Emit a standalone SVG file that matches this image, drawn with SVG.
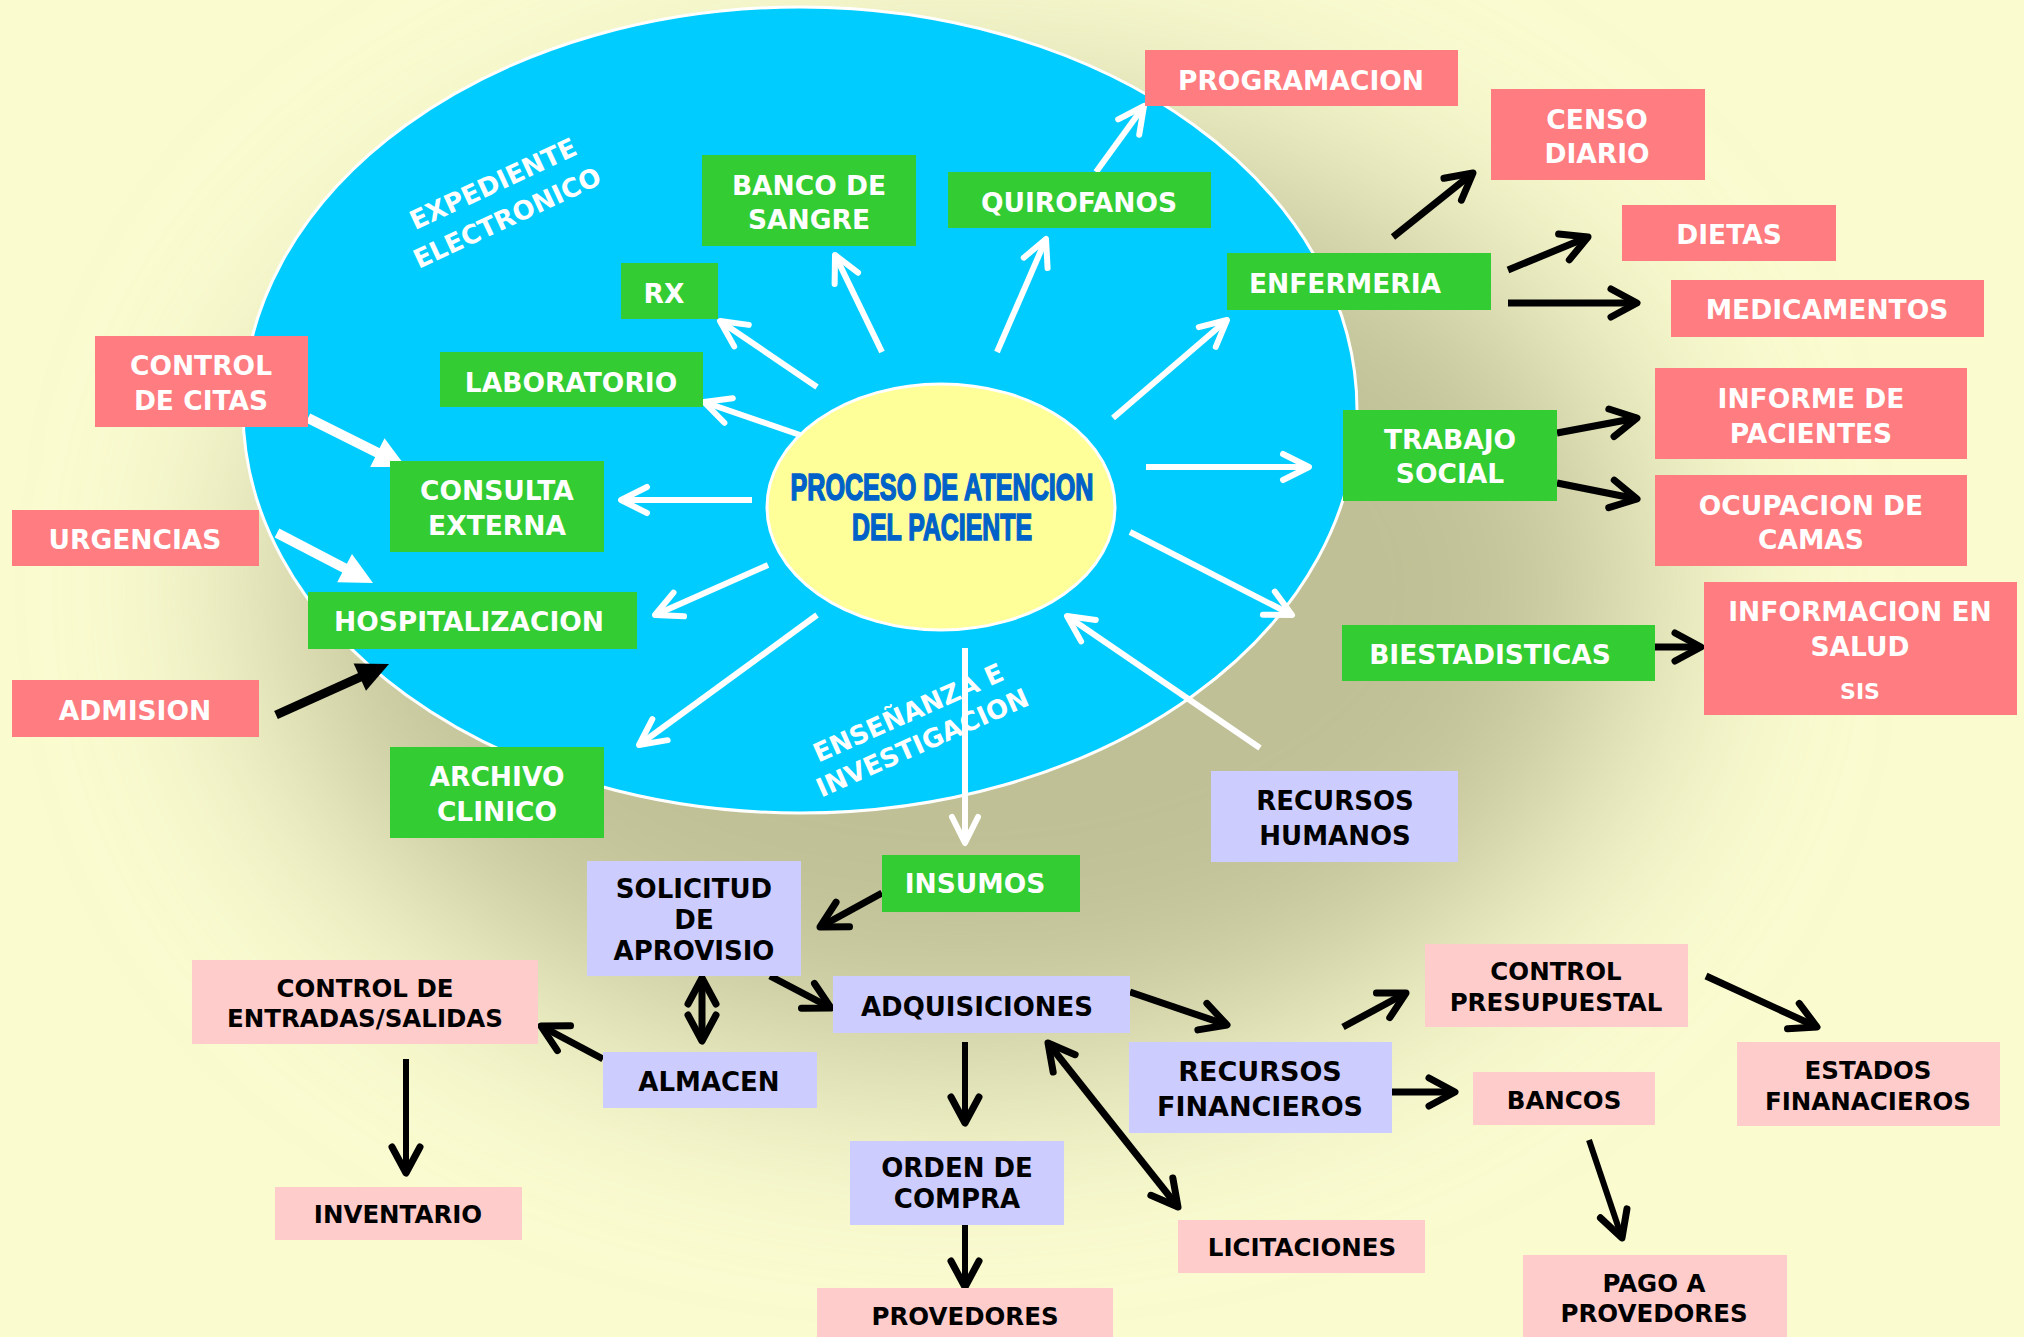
<svg xmlns="http://www.w3.org/2000/svg" width="2024" height="1337" viewBox="0 0 2024 1337">
<style>
.g{fill:#33CC33}
.s{fill:#FF7C80}
.l{fill:#CCCCFF}
.p{fill:#FFCCCC}
text{font-family:"DejaVu Sans",Verdana,sans-serif;font-weight:bold;text-anchor:middle}
.tw{fill:#FFFFFF;font-size:26.5px}
.tl{fill:#000000;font-size:26px}
.tp{fill:#000000;font-size:24.5px}
.rot{fill:#FFFFFF;font-size:26px}
.title{font-family:"Liberation Sans",Arial,sans-serif;font-weight:bold;fill:#0062C8;stroke:#0062C8;stroke-width:1.6px;font-size:37px}
.aw{fill:none;stroke:#FFFFFF;stroke-width:6}
.awt{fill:none;stroke:#FFFFFF;stroke-width:10}
.ab{fill:none;stroke:#000000;stroke-width:7}
.abt{fill:none;stroke:#000000;stroke-width:9}
</style>
<defs>
<filter id="blur" x="-50%" y="-50%" width="200%" height="200%"><feGaussianBlur stdDeviation="110"/></filter>
<marker id="cw" markerUnits="userSpaceOnUse" markerWidth="60" markerHeight="60" viewBox="-30 -30 60 60" refX="0" refY="0" orient="auto-start-reverse" overflow="visible"><path d="M-26,-13 L0,0 L-26,13" fill="none" stroke="#FFFFFF" stroke-width="6" stroke-linecap="round" stroke-linejoin="round"/></marker>
<marker id="cb" markerUnits="userSpaceOnUse" markerWidth="60" markerHeight="60" viewBox="-30 -30 60 60" refX="0" refY="0" orient="auto-start-reverse" overflow="visible"><path d="M-26,-14 L0,0 L-26,14" fill="none" stroke="#000000" stroke-width="7" stroke-linecap="round" stroke-linejoin="round"/></marker>
<marker id="tw" markerUnits="userSpaceOnUse" markerWidth="60" markerHeight="60" viewBox="-30 -30 60 60" refX="0" refY="0" orient="auto" overflow="visible"><path d="M-7,-16 L25,0 L-7,16 Z" fill="#FFFFFF"/></marker>
<marker id="tb" markerUnits="userSpaceOnUse" markerWidth="60" markerHeight="60" viewBox="-30 -30 60 60" refX="0" refY="0" orient="auto" overflow="visible"><path d="M-7,-15 L25,0 L-7,15 Z" fill="#000000"/></marker>
</defs>

<g id="background">
<rect x="0" y="0" width="2024" height="1337" fill="#FAFCD0"/>
<ellipse cx="960" cy="590" rx="690" ry="480" fill="#C0C096" filter="url(#blur)"/>
</g>

<g id="ellipse-outer">
<ellipse cx="800" cy="410" rx="557" ry="403" fill="#00CCFF" stroke="#FFFFFF" stroke-width="3"/>
<text class="rot" transform="translate(497,192) rotate(-25)">EXPEDIENTE</text>
<text class="rot" transform="translate(511,226) rotate(-25)">ELECTRONICO</text>
<text class="rot" transform="translate(912,721) rotate(-24)">ENSEÑANZA E</text>
<text class="rot" transform="translate(926,751) rotate(-24)">INVESTIGACION</text>
</g>

<g id="n-centro">
<ellipse cx="941" cy="507" rx="174" ry="123" fill="#FFFF99" stroke="#FFFFFF" stroke-width="3"/>
<text class="title" x="942" y="500" textLength="303" lengthAdjust="spacingAndGlyphs">PROCESO DE ATENCION</text>
<text class="title" x="942" y="540" textLength="180" lengthAdjust="spacingAndGlyphs">DEL PACIENTE</text>
</g>

<g id="connectors">
<line class="aw" x1="817" y1="387" x2="720" y2="321" marker-end="url(#cw)"/>
<line class="aw" x1="882" y1="352" x2="835" y2="255" marker-end="url(#cw)"/>
<line class="aw" x1="800" y1="435" x2="704" y2="402" marker-end="url(#cw)"/>
<line class="aw" x1="997" y1="352" x2="1046" y2="239" marker-end="url(#cw)"/>
<line class="aw" x1="1096" y1="172" x2="1144" y2="106" marker-end="url(#cw)"/>
<line class="aw" x1="1113" y1="418" x2="1227" y2="320" marker-end="url(#cw)"/>
<line class="aw" x1="1146" y1="467" x2="1309" y2="467" marker-end="url(#cw)"/>
<line class="aw" x1="1130" y1="532" x2="1292" y2="615" marker-end="url(#cw)"/>
<line class="aw" x1="1260" y1="748" x2="1067" y2="616" marker-end="url(#cw)"/>
<line class="aw" x1="752" y1="500" x2="621" y2="500" marker-end="url(#cw)"/>
<line class="aw" x1="768" y1="565" x2="655" y2="615" marker-end="url(#cw)"/>
<line class="aw" x1="817" y1="615" x2="639" y2="745" marker-end="url(#cw)"/>
<line class="aw" x1="965" y1="648" x2="965" y2="843" marker-end="url(#cw)"/>
<line class="awt" x1="308" y1="418" x2="383.6" y2="455.8" marker-end="url(#tw)"/>
<line class="awt" x1="277" y1="533" x2="350.8" y2="571.4" marker-end="url(#tw)"/>
<line class="abt" x1="276" y1="715" x2="366.2" y2="674.3" marker-end="url(#tb)"/>
<line class="ab" x1="1393" y1="237" x2="1473" y2="173" marker-end="url(#cb)"/>
<line class="ab" x1="1508" y1="270" x2="1588" y2="237" marker-end="url(#cb)"/>
<line class="ab" x1="1508" y1="303" x2="1637" y2="303" marker-end="url(#cb)"/>
<line class="ab" x1="1557" y1="433" x2="1637" y2="418" marker-end="url(#cb)"/>
<line class="ab" x1="1557" y1="483" x2="1637" y2="499" marker-end="url(#cb)"/>
<line class="ab" x1="1655" y1="647" x2="1701" y2="647" marker-end="url(#cb)"/>
<line class="ab" x1="882" y1="893" x2="820" y2="927" marker-end="url(#cb)"/>
<line class="ab" x1="702" y1="978" x2="702" y2="1041" marker-start="url(#cb)" marker-end="url(#cb)"/>
<line class="ab" x1="770" y1="976" x2="831" y2="1008" marker-end="url(#cb)"/>
<line class="ab" x1="603" y1="1059" x2="541" y2="1026" marker-end="url(#cb)"/>
<line class="ab" x1="406" y1="1059" x2="406" y2="1173" marker-end="url(#cb)" style="stroke-width:6"/>
<line class="ab" x1="965" y1="1042" x2="965" y2="1123" marker-end="url(#cb)" style="stroke-width:6"/>
<line class="ab" x1="965" y1="1223" x2="965" y2="1287" marker-end="url(#cb)" style="stroke-width:6"/>
<line class="ab" x1="1130" y1="992" x2="1227" y2="1025" marker-end="url(#cb)"/>
<line class="ab" x1="1048" y1="1043" x2="1178" y2="1207" marker-start="url(#cb)" marker-end="url(#cb)"/>
<line class="ab" x1="1343" y1="1027" x2="1406" y2="993" marker-end="url(#cb)"/>
<line class="ab" x1="1706" y1="976" x2="1817" y2="1027" marker-end="url(#cb)"/>
<line class="ab" x1="1392" y1="1092" x2="1455" y2="1092" marker-end="url(#cb)"/>
<line class="ab" x1="1589" y1="1140" x2="1622" y2="1238" marker-end="url(#cb)" style="stroke-width:6"/>
</g>

<g id="n-banco"><rect class="g" x="702" y="155" width="214" height="91"/><text class="tw" x="809" y="195">BANCO DE</text><text class="tw" x="809" y="229">SANGRE</text></g>
<g id="n-rx"><rect class="g" x="621" y="263" width="97" height="56"/><text class="tw" x="664" y="303">RX</text></g>
<g id="n-quirofanos"><rect class="g" x="948" y="172" width="263" height="56"/><text class="tw" x="1079" y="212">QUIROFANOS</text></g>
<g id="n-laboratorio"><rect class="g" x="440" y="352" width="263" height="55"/><text class="tw" x="571" y="392">LABORATORIO</text></g>
<g id="n-enfermeria"><rect class="g" x="1227" y="253" width="264" height="57"/><text class="tw" x="1345" y="293">ENFERMERIA</text></g>
<g id="n-consulta"><rect class="g" x="390" y="461" width="214" height="91"/><text class="tw" x="497" y="500">CONSULTA</text><text class="tw" x="497" y="535">EXTERNA</text></g>
<g id="n-hospitalizacion"><rect class="g" x="308" y="592" width="329" height="57"/><text class="tw" x="469" y="631">HOSPITALIZACION</text></g>
<g id="n-archivo"><rect class="g" x="390" y="747" width="214" height="91"/><text class="tw" x="497" y="786">ARCHIVO</text><text class="tw" x="497" y="821">CLINICO</text></g>
<g id="n-trabajo"><rect class="g" x="1343" y="410" width="214" height="91"/><text class="tw" x="1450" y="449">TRABAJO</text><text class="tw" x="1450" y="483">SOCIAL</text></g>
<g id="n-biestadisticas"><rect class="g" x="1342" y="625" width="313" height="56"/><text class="tw" x="1490" y="664">BIESTADISTICAS</text></g>
<g id="n-insumos"><rect class="g" x="882" y="855" width="198" height="57"/><text class="tw" x="975" y="893">INSUMOS</text></g>

<g id="n-programacion"><rect class="s" x="1145" y="50" width="313" height="56"/><text class="tw" x="1301" y="90">PROGRAMACION</text></g>
<g id="n-censo"><rect class="s" x="1491" y="89" width="214" height="91"/><text class="tw" x="1597" y="129">CENSO</text><text class="tw" x="1597" y="163">DIARIO</text></g>
<g id="n-dietas"><rect class="s" x="1622" y="205" width="214" height="56"/><text class="tw" x="1729" y="244">DIETAS</text></g>
<g id="n-medicamentos"><rect class="s" x="1671" y="280" width="313" height="57"/><text class="tw" x="1827" y="319">MEDICAMENTOS</text></g>
<g id="n-informe"><rect class="s" x="1655" y="368" width="312" height="91"/><text class="tw" x="1811" y="408">INFORME DE</text><text class="tw" x="1811" y="443">PACIENTES</text></g>
<g id="n-ocupacion"><rect class="s" x="1655" y="475" width="312" height="91"/><text class="tw" x="1811" y="515">OCUPACION DE</text><text class="tw" x="1811" y="549">CAMAS</text></g>
<g id="n-informacion"><rect class="s" x="1704" y="582" width="313" height="133"/><text class="tw" x="1860" y="621">INFORMACION EN</text><text class="tw" x="1860" y="656">SALUD</text><text class="tw" x="1860" y="699" style="font-size:22px">SIS</text></g>
<g id="n-citas"><rect class="s" x="95" y="336" width="213" height="91"/><text class="tw" x="201" y="375">CONTROL</text><text class="tw" x="201" y="410">DE CITAS</text></g>
<g id="n-urgencias"><rect class="s" x="12" y="510" width="247" height="56"/><text class="tw" x="135" y="549">URGENCIAS</text></g>
<g id="n-admision"><rect class="s" x="12" y="680" width="247" height="57"/><text class="tw" x="135" y="720">ADMISION</text></g>

<g id="n-rrhh"><rect class="l" x="1211" y="771" width="247" height="91"/><text class="tl" x="1335" y="810">RECURSOS</text><text class="tl" x="1335" y="845">HUMANOS</text></g>
<g id="n-solicitud"><rect class="l" x="587" y="861" width="214" height="115"/><text class="tl" x="694" y="898">SOLICITUD</text><text class="tl" x="694" y="929">DE</text><text class="tl" x="694" y="960">APROVISIO</text></g>
<g id="n-adquisiciones"><rect class="l" x="833" y="976" width="297" height="57"/><text class="tl" x="977" y="1016">ADQUISICIONES</text></g>
<g id="n-almacen"><rect class="l" x="603" y="1052" width="214" height="56"/><text class="tl" x="709" y="1091">ALMACEN</text></g>
<g id="n-orden"><rect class="l" x="850" y="1141" width="214" height="84"/><text class="tl" x="957" y="1177">ORDEN DE</text><text class="tl" x="957" y="1208">COMPRA</text></g>
<g id="n-rfinancieros"><rect class="l" x="1129" y="1042" width="263" height="91"/><text class="tl" x="1260" y="1081" style="font-size:27px">RECURSOS</text><text class="tl" x="1260" y="1116" style="font-size:27px">FINANCIEROS</text></g>

<g id="n-entradas"><rect class="p" x="192" y="960" width="346" height="84"/><text class="tp" x="365" y="997">CONTROL DE</text><text class="tp" x="365" y="1027">ENTRADAS/SALIDAS</text></g>
<g id="n-inventario"><rect class="p" x="275" y="1187" width="247" height="53"/><text class="tp" x="398" y="1223">INVENTARIO</text></g>
<g id="n-provedores"><rect class="p" x="817" y="1288" width="296" height="60"/><text class="tp" x="965" y="1325">PROVEDORES</text></g>
<g id="n-presupuestal"><rect class="p" x="1425" y="944" width="263" height="83"/><text class="tp" x="1556" y="980">CONTROL</text><text class="tp" x="1556" y="1011">PRESUPUESTAL</text></g>
<g id="n-bancos"><rect class="p" x="1473" y="1072" width="182" height="53"/><text class="tp" x="1564" y="1109">BANCOS</text></g>
<g id="n-estados"><rect class="p" x="1737" y="1042" width="263" height="84"/><text class="tp" x="1868" y="1079">ESTADOS</text><text class="tp" x="1868" y="1110">FINANACIEROS</text></g>
<g id="n-licitaciones"><rect class="p" x="1178" y="1220" width="247" height="53"/><text class="tp" x="1302" y="1256">LICITACIONES</text></g>
<g id="n-pago"><rect class="p" x="1523" y="1255" width="264" height="90"/><text class="tp" x="1654" y="1292">PAGO A</text><text class="tp" x="1654" y="1322">PROVEDORES</text></g>
</svg>
